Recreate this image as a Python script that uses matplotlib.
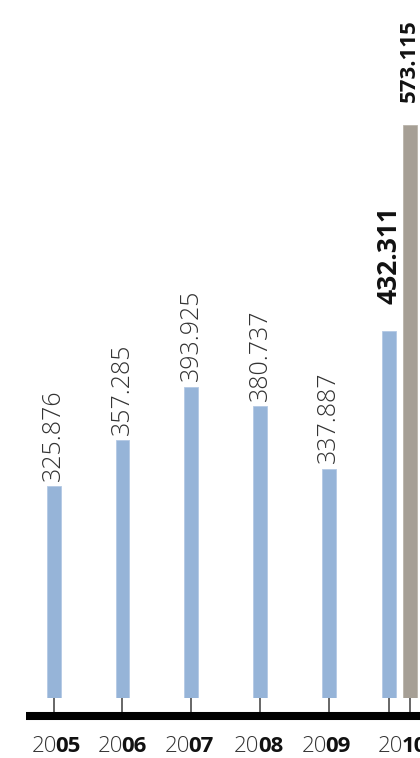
import matplotlib.pyplot as plt
from matplotlib.transforms import blended_transform_factory

years = ["2005", "2006", "2007", "2008", "2009", "2010"]
values = [325.876, 357.285, 393.925, 380.737, 337.887, 432.311]
extra_year = "2010"
extra_value = 573.115

blue = "#96b4d8"
grey = "#a69f95"

fig = plt.figure(figsize=(4.2, 7.58), dpi=100)
ax = fig.add_axes([26/420, 60/758, 394/420, 698/758])

pos = [0, 1, 2, 3, 4, 4.876]
ax.bar(pos, values, width=0.2, color=blue, edgecolor="#b4c9e4", linewidth=0.6)
ax.bar([5.179], [extra_value], width=0.2, color=grey, edgecolor="#bab4ab", linewidth=0.6)

# value labels
for p, v in zip(pos[:5], values[:5]):
    ax.annotate(f"{v:.3f}", (p, v), xytext=(0, 4), textcoords="offset points",
                rotation=90, ha="center", va="bottom", fontsize=18,
                family="Open Sans", fontweight="light", color="#333333")
ax.annotate(f"{values[5]:.3f}", (pos[5], values[5]), xytext=(0, 19), textcoords="offset points",
            rotation=90, ha="center", va="bottom", fontsize=19,
            family="Open Sans", fontweight="bold", color="#111111")
ax.annotate(f"{extra_value:.3f}", (5.179, extra_value), xytext=(0, 16), textcoords="offset points",
            rotation=90, ha="center", va="bottom", fontsize=16,
            family="Open Sans", fontweight="bold", color="#111111", annotation_clip=False)

ax.set_xlim(-0.403, 5.328)
ax.set_ylim(181.3, 658.2)

for s in ["top", "left", "right"]:
    ax.spines[s].set_visible(False)
ax.spines["bottom"].set_position(("outward", 13))
ax.spines["bottom"].set_linewidth(5.8)
ax.spines["bottom"].set_capstyle("butt")
ax.set_yticks([])
ax.set_xticks(pos + [5.179])
ax.tick_params(axis="x", direction="in", length=13, width=1.4, color="#666666", labelbottom=False)

# year labels: "20" light, last two digits bold
tr = blended_transform_factory(ax.transData, ax.transAxes)
label_pos = [0.05, 1.01, 1.98, 2.99, 3.97, 5.08]
for x, y in zip(label_pos, years):
    ax.text(x, -0.0774, y[:2], transform=tr, ha="right", va="baseline", fontsize=16,
            family="Open Sans", fontweight="light", color="#333333", clip_on=False)
    ax.text(x - 0.022, -0.0774, y[2:], transform=tr, ha="left", va="baseline", fontsize=16,
            family="Open Sans", fontweight="bold", color="#111111", clip_on=False)

fig.savefig("out.png", dpi=100)
